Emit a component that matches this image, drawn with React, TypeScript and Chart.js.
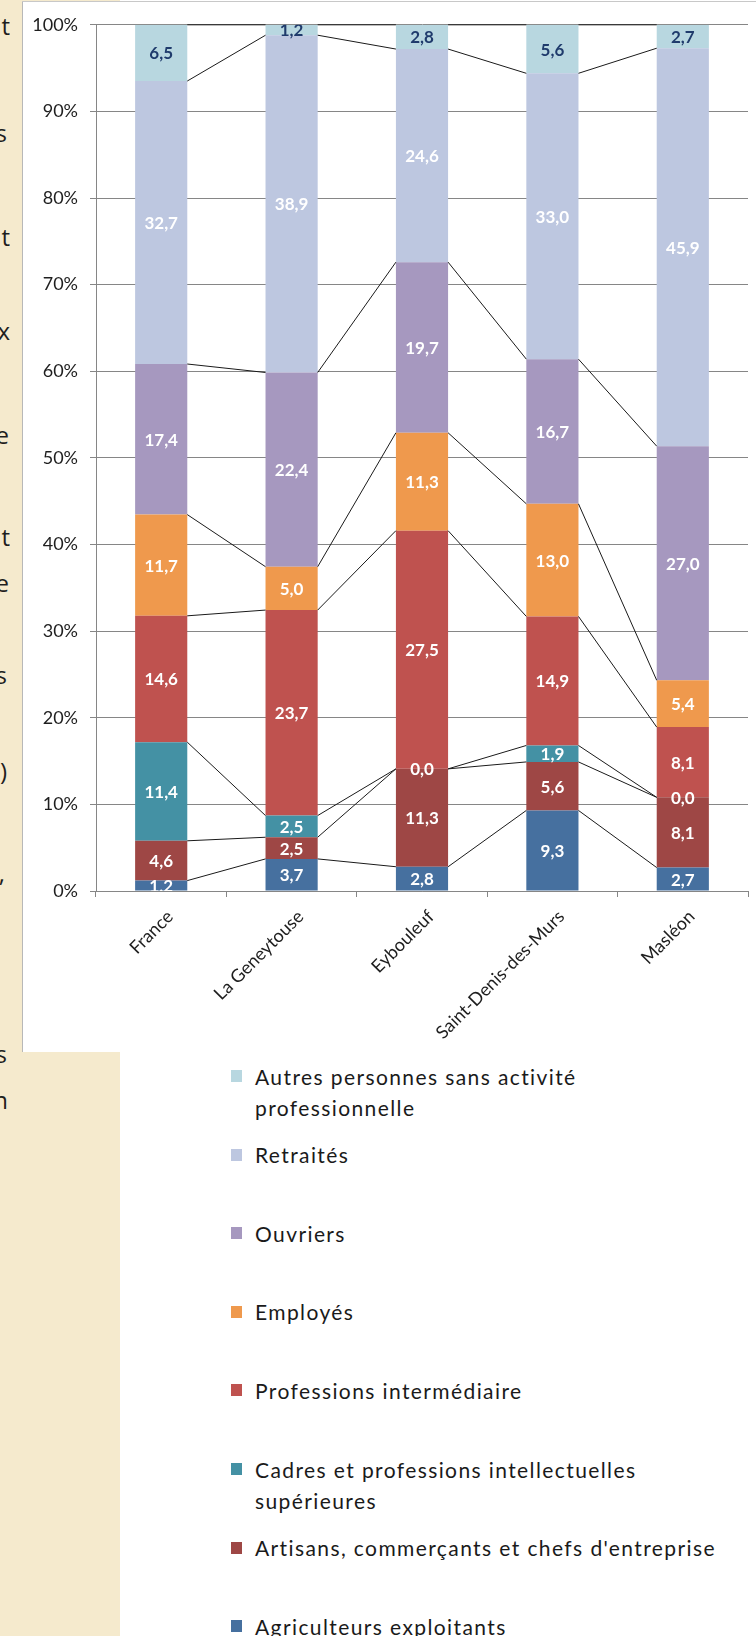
import React, { useEffect, useRef } from "react";
import { Chart, registerables } from "chart.js";

Chart.register(...registerables);

// ---- Data ----
const communes = ["France", "La Geneytouse", "Eybouleuf", "Saint-Denis-des-Murs", "Masléon"];

const seriesNames = [
  "Agriculteurs exploitants",
  "Artisans, commerçants et chefs d'entreprise",
  "Cadres et professions intellectuelles supérieures",
  "Professions intermédiaire",
  "Employés",
  "Ouvriers",
  "Retraités",
  "Autres personnes sans activité professionnelle",
];

// legend text as it is wrapped in the picture
const legendLines = [
  ["Agriculteurs exploitants"],
  ["Artisans, commerçants et chefs d'entreprise"],
  ["Cadres et professions intellectuelles", "supérieures"],
  ["Professions intermédiaire"],
  ["Employés"],
  ["Ouvriers"],
  ["Retraités"],
  ["Autres personnes sans activité", "professionnelle"],
];

const agriculteurs = [1.2, 3.7, 2.8, 9.3, 2.7];
const artisans = [4.6, 2.5, 11.3, 5.6, 8.1];
const cadres = [11.4, 2.5, 0.0, 1.9, 0.0];
const professionsInter = [14.6, 23.7, 27.5, 14.9, 8.1];
const employes = [11.7, 5.0, 11.3, 13.0, 5.4];
const ouvriers = [17.4, 22.4, 19.7, 16.7, 27.0];
const retraites = [32.7, 38.9, 24.6, 33.0, 45.9];
const autres = [6.5, 1.2, 2.8, 5.6, 2.7];

const seriesValues = [agriculteurs, artisans, cadres, professionsInter, employes, ouvriers, retraites, autres];

const seriesColors = ["#46709F", "#9E4745", "#4491A4", "#BF524F", "#EF994D", "#A698BF", "#BDC7E0", "#B8D7E0"];
const labelColors = ["#FFFFFF", "#FFFFFF", "#FFFFFF", "#FFFFFF", "#FFFFFF", "#FFFFFF", "#FFFFFF", "#1F3B6C"];

const yTickLabels = ["0%", "10%", "20%", "30%", "40%", "50%", "60%", "70%", "80%", "90%", "100%"];

// Clipped letters of the neighbouring page text
const sideLetters = ["t", "s", "t", "x", "e", "t", "e", "s", ")", ",", "s", "n"];
const sideLetterY = [29, 136, 240, 334, 438, 540, 586, 678, 774, 876, 1057, 1103];
const sideLetterRight = [10, 7, 10, 10, 9, 10, 9, 7, 7, 5, 7, 8];

const fmt = (v: number) => v.toFixed(1).replace(".", ",");

const seriesLinesPlugin = {
  id: "seriesLines",
  afterDatasetsDraw(chart: any) {
    const ctx = chart.ctx;
    const n = chart.data.labels.length;
    const metas = chart.data.datasets.map((_: any, i: number) => chart.getDatasetMeta(i));
    ctx.save();
    ctx.strokeStyle = "#1A1A1A";
    ctx.lineWidth = 1;
    for (let i = 0; i < n - 1; i++) {
      for (const meta of metas) {
        const a = meta.data[i].getProps(["x", "y", "width"], true);
        const b = meta.data[i + 1].getProps(["x", "y", "width"], true);
        ctx.beginPath();
        ctx.moveTo(a.x + a.width / 2, a.y);
        ctx.lineTo(b.x - b.width / 2, b.y);
        ctx.stroke();
      }
    }
    ctx.restore();

    // value labels
    const area = chart.chartArea;
    ctx.save();
    ctx.beginPath();
    ctx.rect(area.left, area.top, area.right - area.left, area.bottom - area.top);
    ctx.clip();
    ctx.font = "bold 17px Lato";
    ctx.textAlign = "center";
    ctx.textBaseline = "middle";
    metas.forEach((meta: any, d: number) => {
      ctx.fillStyle = labelColors[d];
      meta.data.forEach((el: any, i: number) => {
        const p = el.getProps(["x", "y", "base"], true);
        ctx.fillText(fmt(seriesValues[d][i]), p.x, (p.y + p.base) / 2 + 1);
      });
    });
    ctx.restore();
  },
};

export default function App() {
  const canvasRef = useRef<HTMLCanvasElement | null>(null);

  useEffect(() => {
    const canvas = canvasRef.current;
    if (!canvas) return;
    const totals = communes.map((_, i) => seriesValues.reduce((s, arr) => s + arr[i], 0));
    const chart = new Chart(canvas, {
      type: "bar",
      data: {
        labels: communes,
        datasets: seriesValues.map((vals, d) => ({
          label: seriesNames[d],
          data: vals.map((v, i) => (v / totals[i]) * 100),
          backgroundColor: seriesColors[d],
          borderWidth: 0,
          categoryPercentage: 1,
          barPercentage: 0.4,
        })),
      },
      options: {
        responsive: false,
        animation: false,
        events: [],
        layout: { padding: { top: 19, right: 8, left: 0, bottom: 0 } },
        plugins: { legend: { display: false }, tooltip: { enabled: false } },
        scales: {
          x: {
            stacked: true,
            afterFit: (s: any) => {
              s.height = 161;
            },
            grid: { offset: true, drawOnChartArea: false, tickLength: 6, color: "#868686", lineWidth: 1 },
            border: { color: "#868686", width: 1 },
            ticks: {
              minRotation: 45,
              maxRotation: 45,
              padding: 9,
              labelOffset: 9,
              color: "#1E1E1E",
              font: { family: "Lato", size: 18 },
            },
          },
          y: {
            stacked: true,
            min: 0,
            max: 100,
            afterFit: (s: any) => {
              s.width = 73;
            },
            grid: { color: "#868686", lineWidth: 1, tickLength: 6 },
            border: { color: "#868686", width: 1 },
            ticks: {
              stepSize: 10,
              padding: 12,
              color: "#1E1E1E",
              font: { family: "Lato", size: 18 },
              callback: (_v: any, idx: number) => yTickLabels[idx],
            },
          },
        },
      },
      plugins: [seriesLinesPlugin],
    });
    let alive = true;
    if ((document as any).fonts) {
      Promise.all([
        (document as any).fonts.load("16px Lato"),
        (document as any).fonts.load("bold 16px Lato"),
      ]).then(() => {
        if (alive) chart.update();
      });
    }
    return () => {
      alive = false;
      chart.destroy();
    };
  }, []);

  const legendOrder = seriesNames.map((_, i) => i).reverse();

  return (
    <div
      style={{
        position: "absolute",
        left: 0,
        top: 0,
        width: 756,
        height: 1636,
        overflow: "hidden",
        background: "#FFFFFF",
      }}
    >
      {/* beige page background */}
      <div style={{ position: "absolute", left: 0, top: 0, width: 22, height: 1636, background: "#F5EACD" }} />
      <div style={{ position: "absolute", left: 0, top: 1052, width: 120, height: 584, background: "#F5EACD" }} />
      <div style={{ position: "absolute", left: 0, top: 0, width: 120, height: 1, background: "#F5EACD" }} />
      {/* chart frame */}
      <div style={{ position: "absolute", left: 22, top: 1, width: 1, height: 1051, background: "#B8B8B8" }} />
      <div style={{ position: "absolute", left: 22, top: 1, width: 734, height: 1, background: "#C8C8C8" }} />

      {sideLetters.map((ch, i) => (
        <div
          key={i}
          style={{
            position: "absolute",
            left: 0,
            top: sideLetterY[i] - 15,
            width: sideLetterRight[i],
            height: 34,
            overflow: "hidden",
          }}
        >
          <span
            style={{
              position: "absolute",
              right: 0,
              top: 0,
              fontFamily: "'Open Sans', sans-serif",
              fontSize: 24,
              lineHeight: "24px",
              color: "#1E1E1E",
              whiteSpace: "nowrap",
            }}
          >
            {ch}
          </span>
        </div>
      ))}

      <canvas
        ref={canvasRef}
        width={733}
        height={1050}
        style={{ position: "absolute", left: 23, top: 2, width: 733, height: 1050 }}
      />

      {legendOrder.map((d, k) => {
        const cy = 1076 + k * 78.6;
        return (
          <React.Fragment key={d}>
            <div
              style={{
                position: "absolute",
                left: 231,
                top: cy - 6,
                width: 11,
                height: 12,
                background: seriesColors[d],
              }}
            />
            <div
              style={{
                position: "absolute",
                left: 255,
                top: cy - 15.5,
                whiteSpace: "nowrap",
                fontFamily: "Lato, sans-serif",
                fontSize: 21,
                letterSpacing: "1.4px",
                lineHeight: "31px",
                color: "#1A1A1A",
              }}
            >
              {legendLines[d].map((line, j) => (
                <div key={j}>{line}</div>
              ))}
            </div>
          </React.Fragment>
        );
      })}
    </div>
  );
}
